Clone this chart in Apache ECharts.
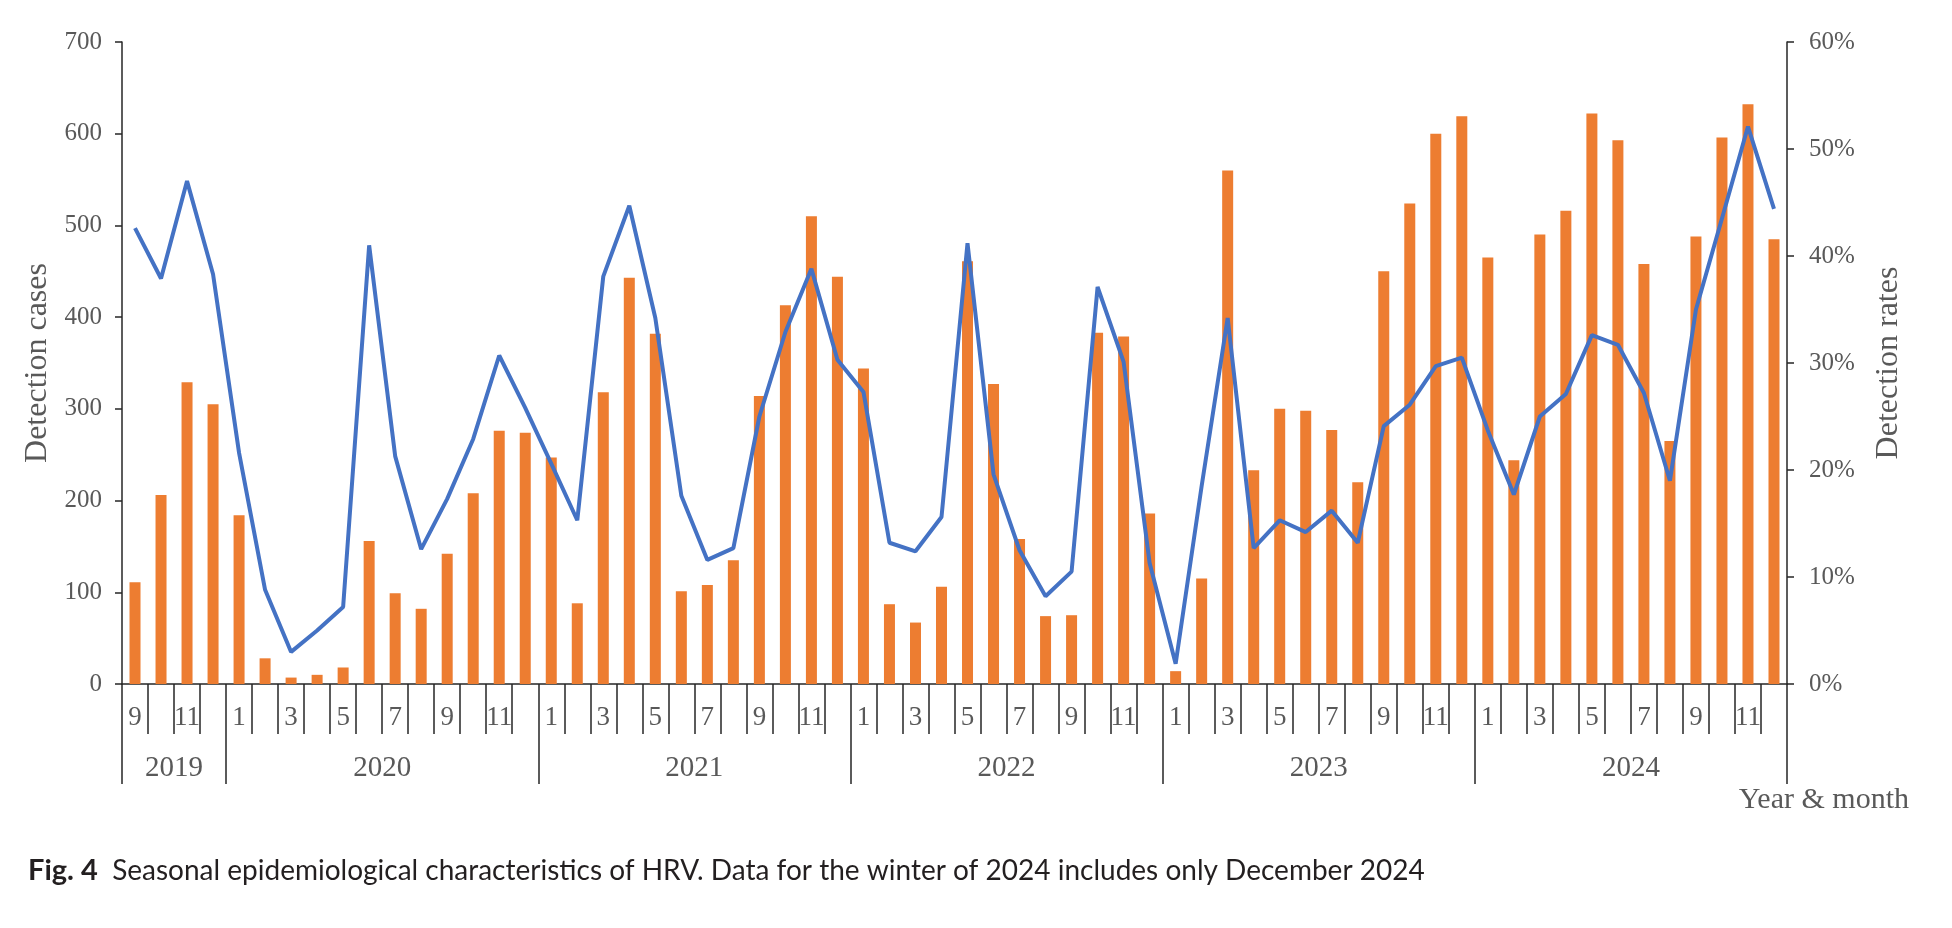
<!DOCTYPE html>
<html lang="en">
<head>
    <meta charset="UTF-8">
    <title>HRV seasonal</title>
    <style>
        html, body { margin: 0; padding: 0; background: #fff; }
        #main { width: 1952px; height: 928px; }
    </style>
</head>
<body>
    <div id="main"></div>
</body>
<script src="https://cdn.jsdelivr.net/npm/echarts@6/dist/echarts.min.js"></script>
<script>
    // years shown on the second axis row; first year starts in September
    var years = ['2019', '2020', '2021', '2022', '2023', '2024']
    var firstMonth = 9

    // monthly detection cases (bars) and detection rate in % (line)
    var cases = [
        111, 206, 329, 305,
        184, 28, 7, 10, 18, 156, 99, 82, 142, 208, 276, 274,
        247, 88, 318, 443, 382, 101, 108, 135, 314, 413, 510, 444,
        344, 87, 67, 106, 461, 327, 158, 74, 75, 383, 379, 186,
        14, 115, 560, 233, 300, 298, 277, 220, 450, 524, 600, 619,
        465, 244, 490, 516, 622, 593, 458, 265, 488, 596, 632, 485
    ]
    var rates = [
        42.6, 37.9, 47.0, 38.3,
        21.6, 8.8, 3.0, 5.0, 7.2, 41.0, 21.3, 12.6, 17.3, 22.9, 30.7, 25.8,
        20.6, 15.3, 38.1, 44.7, 34.2, 17.6, 11.6, 12.7, 25.0, 32.9, 38.8, 30.3,
        27.3, 13.2, 12.4, 15.6, 41.2, 19.6, 12.5, 8.2, 10.5, 37.1, 30.1, 11.3,
        1.9, 18.5, 34.2, 12.7, 15.3, 14.2, 16.2, 13.2, 24.1, 26.1, 29.7, 30.5,
        23.7, 17.7, 25.0, 27.1, 32.6, 31.7, 27.2, 19.0, 35.0, 43.5, 52.1, 44.4
    ]

    var caseTicks = [0, 700, 100]   // min, max, interval
    var rateTicks = [0, 60, 10]

    // month categories + where each year starts
    var months = []
    var yearStarts = []
    years.forEach(function (y, k) {
        yearStarts.push(months.length)
        for (var m = (k === 0 ? firstMonth : 1); m <= 12; m++) months.push(String(m))
    })
    yearStarts.push(months.length)

    // year row lives on the month boundaries (64 months -> 65 boundaries)
    var yearSlots = []
    for (var i = 0; i <= months.length; i++) yearSlots.push('')
    years.forEach(function (y, k) {
        yearSlots[(yearStarts[k] + yearStarts[k + 1]) / 2] = y
    })

    var grey = '#595959'
    var lineCol = '#262626'
    var serif = 'Liberation Serif'

    var main = echarts.init(document.getElementById('main'))
    var option = {
        animation: false,
        grid: { left: 122, right: 165, top: 42, bottom: 244 },
        xAxis: [
            {
                type: 'category',
                data: months,
                position: 'bottom',
                offset: 0,
                boundaryGap: true,
                axisLine: { show: true, lineStyle: { color: lineCol, width: 1.5 } },
                axisTick: { show: true, interval: 0, length: 50, lineStyle: { color: lineCol, width: 1.5 } },
                axisLabel: {
                    interval: 0,
                    margin: 20,
                    color: grey,
                    fontFamily: serif,
                    fontSize: 27,
                    formatter: function (v) { return (+v) % 2 === 1 ? v : '' }
                },
                splitLine: { show: false }
            },
            {
                type: 'category',
                data: yearSlots,
                position: 'bottom',
                offset: 0,
                boundaryGap: false,
                axisLine: { show: false },
                axisTick: {
                    show: true,
                    length: 100,
                    interval: function (idx) { return yearStarts.indexOf(idx) >= 0 },
                    lineStyle: { color: lineCol, width: 1.5 }
                },
                axisLabel: {
                    interval: 0,
                    margin: 70,
                    color: grey,
                    fontFamily: serif,
                    fontSize: 29
                },
                splitLine: { show: false }
            }
        ],
        yAxis: [
            {
                type: 'value',
                min: caseTicks[0],
                max: caseTicks[1],
                interval: caseTicks[2],
                name: 'Detection cases',
                nameLocation: 'middle',
                nameRotate: 90,
                nameGap: 62,
                nameTextStyle: { color: grey, fontFamily: serif, fontSize: 32 },
                axisLine: { show: true, lineStyle: { color: lineCol, width: 1.5 } },
                axisTick: { show: true, length: 7, lineStyle: { color: lineCol, width: 1.5 } },
                axisLabel: { margin: 20, color: grey, fontFamily: serif, fontSize: 25 },
                splitLine: { show: false }
            },
            {
                type: 'value',
                position: 'right',
                min: rateTicks[0],
                max: rateTicks[1],
                interval: rateTicks[2],
                name: 'Detection rates',
                nameLocation: 'middle',
                nameRotate: 90,
                nameGap: 86,
                nameTextStyle: { color: grey, fontFamily: serif, fontSize: 32 },
                axisLine: { show: true, lineStyle: { color: lineCol, width: 1.5 } },
                axisTick: { show: true, length: 7, lineStyle: { color: lineCol, width: 1.5 } },
                axisLabel: { margin: 22, color: grey, fontFamily: serif, fontSize: 25, formatter: '{value}%' },
                splitLine: { show: false }
            }
        ],
        graphic: [
            {
                type: 'text',
                right: 43,
                top: 785,
                style: { text: 'Year & month', fill: grey, font: '30px "Liberation Serif"' }
            },
            {
                type: 'text',
                left: 28,
                top: 856,
                style: {
                    text: '{b|Fig. 4}  Seasonal epidemiological characteristics of HRV. Data for the winter of 2024 includes only December 2024',
                    fill: '#231f20',
                    font: '28px Lato',
                    rich: {
                        b: { fontFamily: 'Lato', fontWeight: 'bold', fontSize: 29, fill: '#231f20' }
                    }
                }
            }
        ],
        series: [
            {
                type: 'bar',
                xAxisIndex: 0,
                yAxisIndex: 0,
                barWidth: 11,
                itemStyle: { color: '#ED7D31' },
                data: cases
            },
            {
                type: 'line',
                xAxisIndex: 0,
                yAxisIndex: 1,
                symbol: 'none',
                lineStyle: { color: '#4472C4', width: 4 },
                data: rates
            }
        ]
    }
    main.setOption(option)
</script>
</html>
